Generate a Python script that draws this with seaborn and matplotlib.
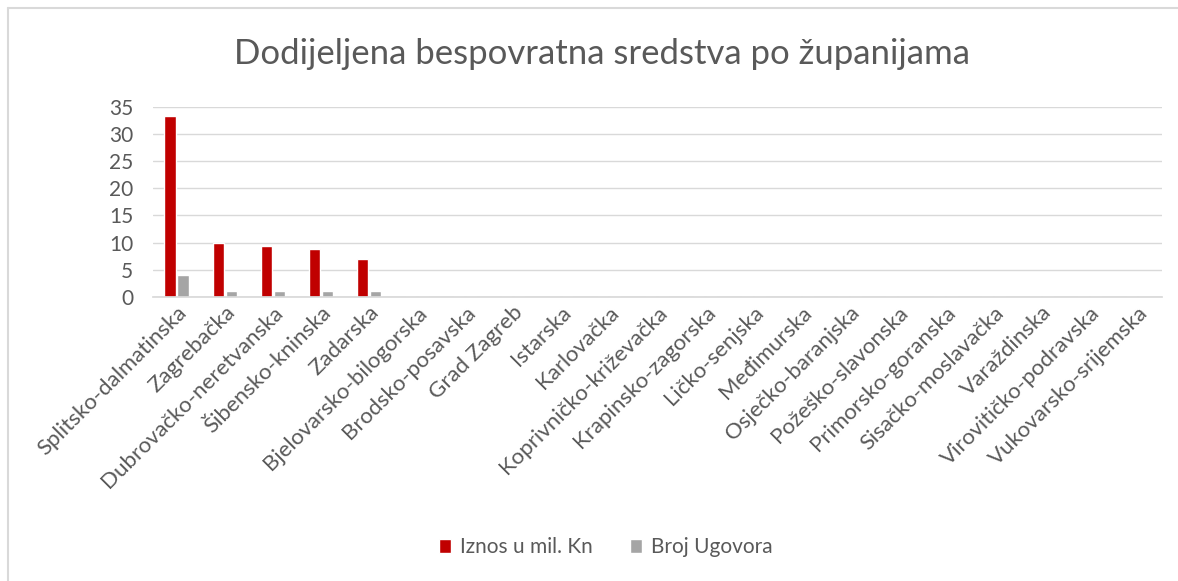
import matplotlib
matplotlib.use("Agg")
import matplotlib.pyplot as plt
import seaborn as sns
import pandas as pd
from matplotlib.lines import Line2D

counties = ["Splitsko-dalmatinska", "Zagrebačka", "Dubrovačko-neretvanska", "Šibensko-kninska",
            "Zadarska", "Bjelovarsko-bilogorska", "Brodsko-posavska", "Grad Zagreb", "Istarska",
            "Karlovačka", "Koprivničko-križevačka", "Krapinsko-zagorska", "Ličko-senjska",
            "Međimurska", "Osječko-baranjska", "Požeško-slavonska", "Primorsko-goranska",
            "Sisačko-moslavačka", "Varaždinska", "Virovitičko-podravska", "Vukovarsko-srijemska"]
iznos = [33.4, 10.0, 9.3, 8.8, 6.9, 0, 0, 0, 0, 0, 0, 0, 0, 0, 0, 0, 0, 0, 0, 0, 0]
broj = [4, 1, 1, 1, 1, 0, 0, 0, 0, 0, 0, 0, 0, 0, 0, 0, 0, 0, 0, 0, 0]
series_names = ["Iznos u mil. Kn", "Broj Ugovora"]
yticks = [0, 5, 10, 15, 20, 25, 30, 35]

df = pd.DataFrame({
    "county": counties * 2,
    "value": iznos + broj,
    "series": [series_names[0]] * len(counties) + [series_names[1]] * len(counties),
})

sns.set_theme(style="white")
plt.rcParams["font.family"] = ["Lato", "DejaVu Sans"]

fig = plt.figure(figsize=(11.78, 5.81), dpi=100)
ax = fig.add_axes([0.1296, 0.489, 0.8566, 0.327])

sns.barplot(data=df, x="county", y="value", hue="series", order=counties,
            hue_order=series_names, palette=["#C00000", "#A5A5A5"], saturation=1,
            width=0.54, gap=0.12, ax=ax, legend=True)

ax.set_ylim(0, 35)
ax.set_yticks(yticks)
ax.set_xlim(-0.5, len(counties) - 0.5)
ax.yaxis.grid(True, color="#D9D9D9", linewidth=1)
ax.set_axisbelow(True)
for s in ["top", "right", "left"]:
    ax.spines[s].set_visible(False)
ax.spines["bottom"].set_color("#D9D9D9")
ax.set_xlabel("")
ax.set_ylabel("")
ax.tick_params(axis="y", labelsize=15, colors="#595959", length=0, pad=14)
ax.tick_params(axis="x", labelsize=16, colors="#595959", length=0, pad=4)
plt.setp(ax.get_xticklabels(), rotation=45, ha="right", rotation_mode="anchor")

fig.suptitle("Dodijeljena bespovratna sredstva po županijama", x=0.511, y=0.935,
             fontsize=25, color="#595959")

handles, labels = ax.get_legend_handles_labels()
ax.legend_.remove()
fig.legend(handles, labels, loc="center", bbox_to_anchor=(0.514, 0.058), ncol=2,
           frameon=False, fontsize=15, labelcolor="#595959", handlelength=0.6,
           handleheight=0.6, handletextpad=0.4, columnspacing=1.8)

fig.add_artist(Line2D([8 / 1178, 1.0], [1 - 8 / 581, 1 - 8 / 581], transform=fig.transFigure,
                      color="#D9D9D9", linewidth=1.5))
fig.add_artist(Line2D([8 / 1178, 8 / 1178], [0.0, 1 - 8 / 581], transform=fig.transFigure,
                      color="#D9D9D9", linewidth=1.5))

fig.savefig("out.png", dpi=100)
